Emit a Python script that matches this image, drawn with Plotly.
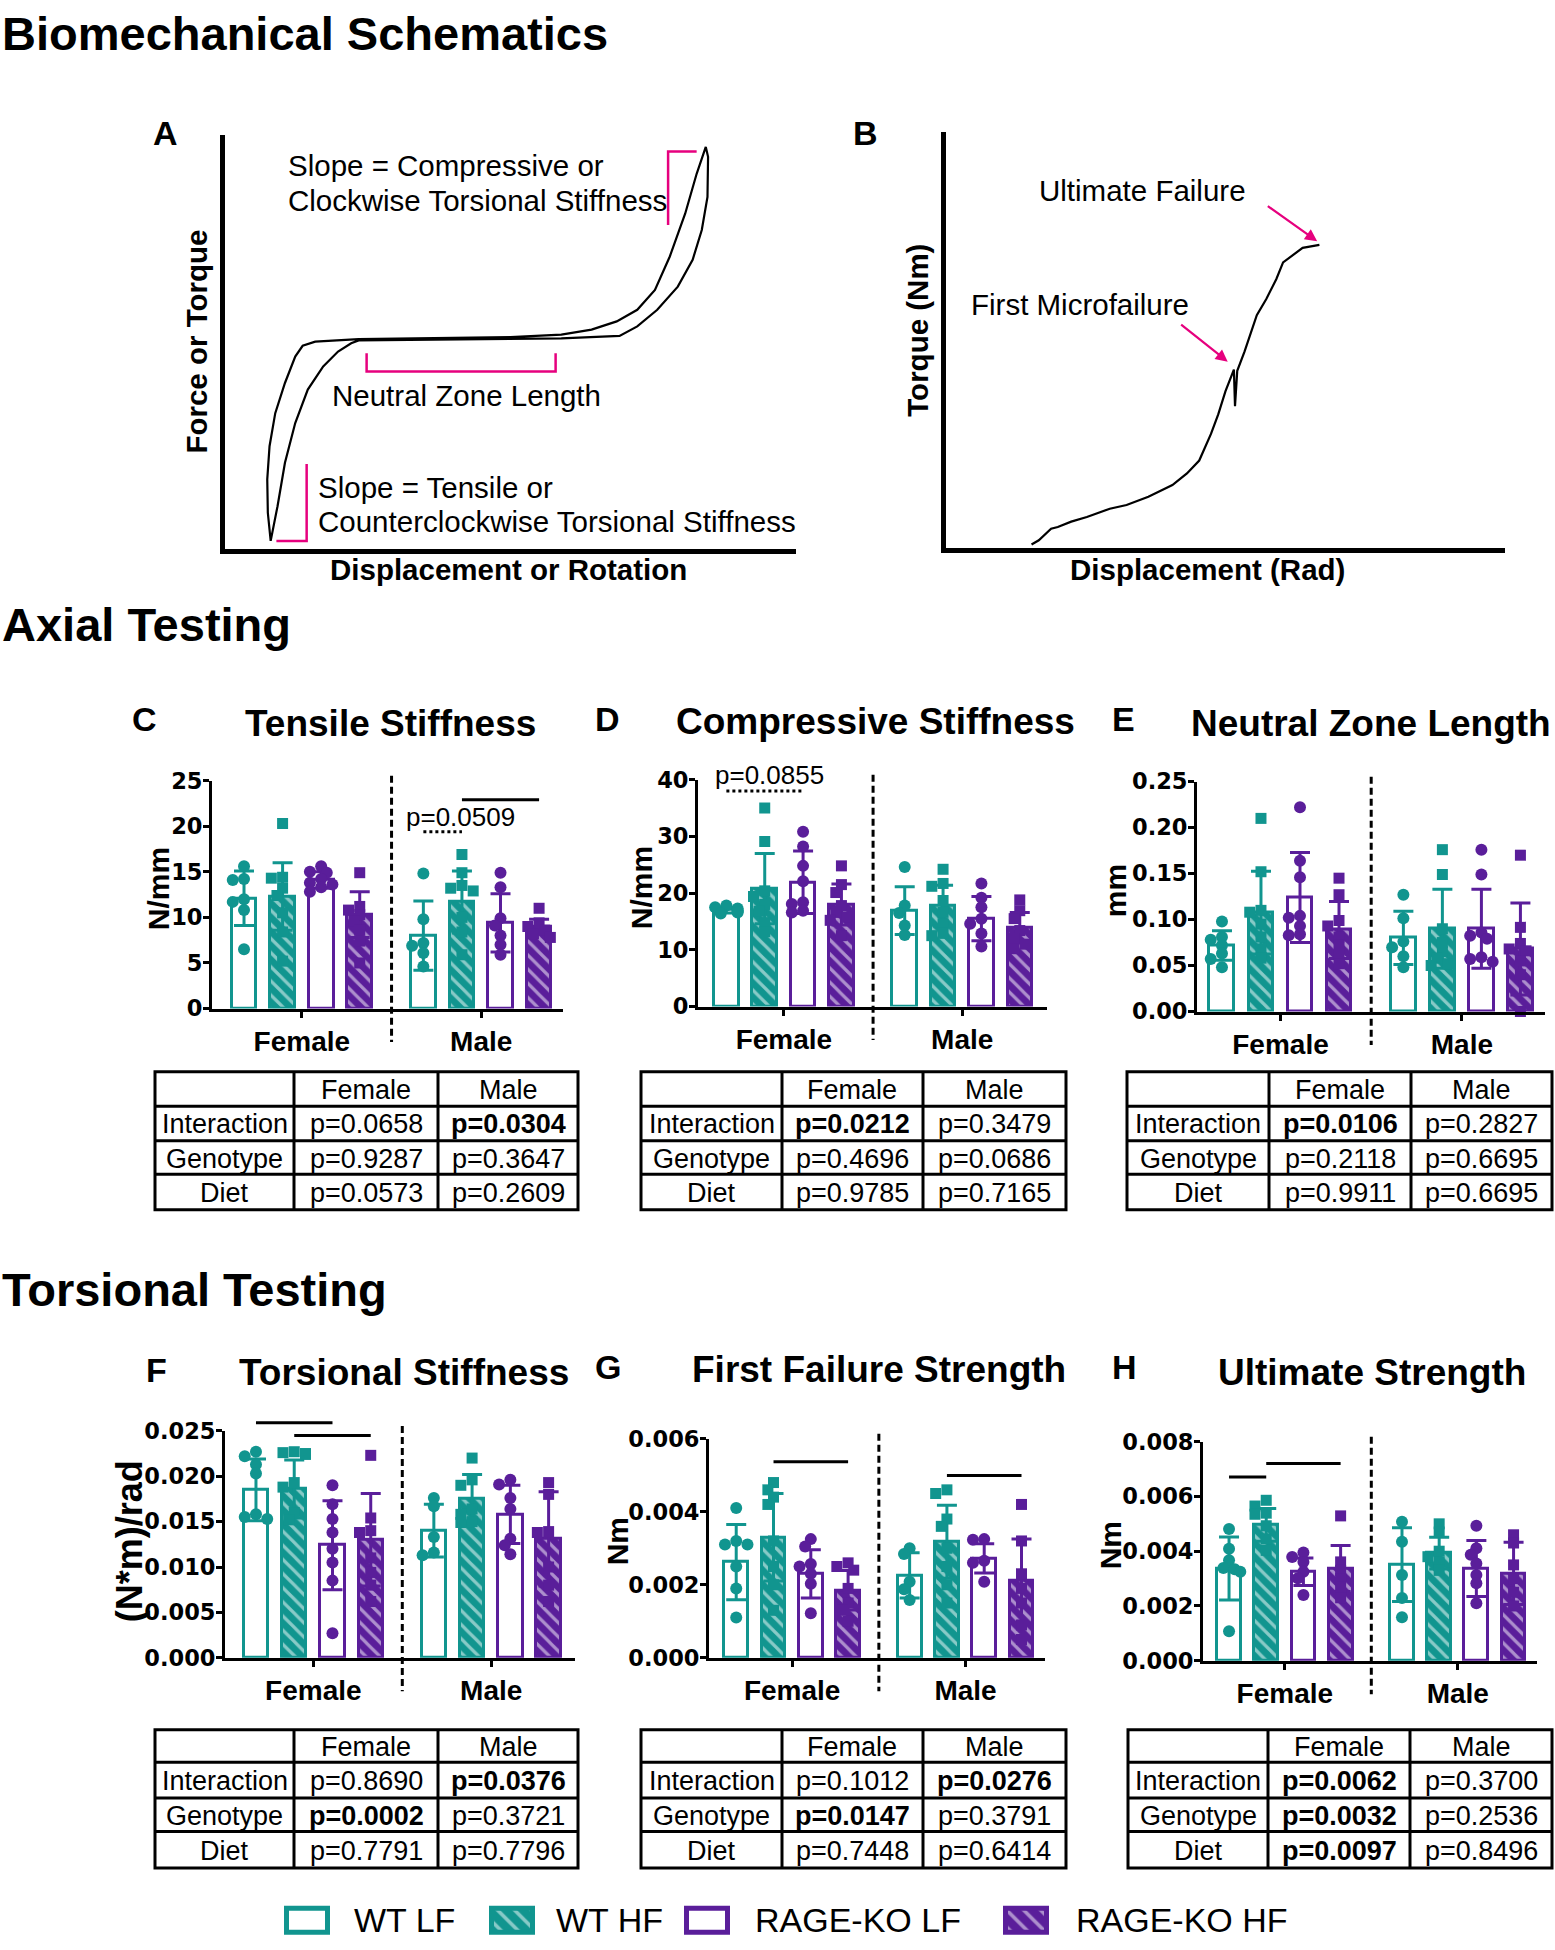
import plotly.graph_objects as go

W, H = 1555, 1950
TEAL = "#11958f"
PURPLE = "#5a1e9a"
PINK = "#e6007e"
FONT = "Liberation Sans, Arial, sans-serif"
TICK_FONT = "DejaVu Sans, Liberation Sans, sans-serif"

GROUPS = ["WT LF", "WT HF", "RAGE-KO LF", "RAGE-KO HF"]
GROUP_COLORS = [TEAL, TEAL, PURPLE, PURPLE]
GROUP_HATCHED = [False, True, False, True]
GROUP_SYMBOL = ["circle", "square", "circle", "square"]
SEXES = ["Female", "Male"]
# bar order: Female WT LF, WT HF, KO LF, KO HF, then Male in same order
BAR_POS = [0, 1, 2, 3, 4.65, 5.65, 6.65, 7.65]
SEX_TICKS = [1.5, 6.15]
SEPARATOR_X = 3.825

TABLE_ROWS = ["Interaction", "Genotype", "Diet"]

# ---------------------------------------------------------------------------
# Schematic curves (normalised 0-100 axis units)
# ---------------------------------------------------------------------------
A_CURVE_X = [8.0, 7.5, 7.4, 7.8, 8.8, 10.5, 12.3, 13.6, 15.8, 23.4, 50.0, 58.9, 64.2,
             68.6, 72.2, 75.3, 77.9, 80.6, 82.6, 84.2, 84.6, 84.5, 83.5, 81.9, 79.3,
             75.7, 72.2, 69.1, 58.9, 23.4, 22.1, 19.8, 17.2, 14.5, 12.3, 10.5, 9.2, 8.0]
A_CURVE_Y = [1.9, 8.7, 16.8, 24.8, 32.8, 40.1, 46.5, 49.1, 50.1, 50.7, 51.2, 51.8, 53.0,
             55.0, 57.8, 62.6, 70.7, 81.1, 90.7, 97.2, 94.8, 85.1, 77.1, 69.9, 63.4,
             57.8, 53.8, 51.5, 50.9, 50.4, 49.7, 47.7, 44.1, 38.5, 30.4, 20.8, 10.3, 1.9]
A_BRACKETS = [
    ([77.6, 77.6, 82.6], [78.3, 96.1, 96.1]),
    ([24.8, 24.8, 57.9, 57.9], [47.3, 42.9, 42.9, 47.3]),
    ([14.3, 14.3, 9.0], [20.5, 1.9, 1.9]),
]
B_CURVE_X = [15.3, 16.6, 18.8, 20.0, 22.4, 25.2, 29.3, 32.3, 36.2, 40.5, 43.1, 45.3, 47.4,
             48.7, 50.0, 51.5, 51.7, 52.1, 53.4, 55.6, 57.3, 59.1, 60.3, 62.9, 63.8, 66.8]
B_CURVE_Y = [0.8, 1.8, 4.6, 5.0, 6.3, 7.4, 9.4, 10.3, 12.3, 15.1, 17.9, 21.0, 27.4,
             32.1, 37.7, 42.9, 34.1, 42.6, 47.2, 56.0, 59.9, 64.7, 68.7, 71.4, 72.2, 72.9]
B_ARROWS = [((57.3, 82.5), (66.4, 73.8)), ((41.8, 54.0), (50.4, 44.8))]

# ---------------------------------------------------------------------------
# C. Tensile stiffness (N/mm)
# ---------------------------------------------------------------------------
C_MEAN = [12.1, 12.3, 14.1, 10.3, 8.0, 11.7, 9.4, 9.0]
C_SD = [3.0, 3.7, 0.9, 2.5, 3.8, 3.4, 3.2, 0.8]
C_PTS = [
    [15.6, 14.2, 14.1, 12.0, 11.7, 10.8, 6.5],
    [20.3, 14.4, 14.3, 13.2, 12.4, 10.5, 8.4, 5.2],
    [15.6, 15.0, 14.9, 14.2, 13.8, 13.6, 13.3, 12.8],
    [14.9, 11.2, 10.8, 10.3, 9.6, 8.6, 7.4, 5.0],
    [14.8, 9.8, 7.2, 6.9, 6.1, 4.6],
    [16.9, 14.9, 13.5, 13.2, 12.9, 10.0, 8.4, 5.9],
    [14.9, 13.3, 9.9, 9.1, 8.0, 7.0, 5.9],
    [11.0, 9.4, 9.0, 8.6, 8.2, 7.8],
]
C_TICKS = [0, 5, 10, 15, 20, 25]
C_SIG = [(4, 5, 19.4, "dot"), (5, 7, 22.9, "solid")]
C_PTEXT = [("p=0.0509", 5.61, 21.0)]
C_PVALS = [["0.0658", "0.0304"], ["0.9287", "0.3647"], ["0.0573", "0.2609"]]

# ---------------------------------------------------------------------------
# D. Compressive stiffness (N/mm)
# ---------------------------------------------------------------------------
D_MEAN = [17.0, 20.8, 21.9, 18.0, 16.9, 17.8, 15.5, 13.9]
D_SD = [0.5, 6.2, 5.5, 3.6, 4.2, 3.6, 3.9, 2.7]
D_PTS = [
    [17.8, 17.5, 17.3, 17.0, 16.8, 16.6, 16.4],
    [35.0, 29.1, 20.4, 19.4, 18.0, 16.8, 14.8, 13.2],
    [30.8, 28.2, 24.8, 22.1, 18.4, 18.1, 16.9, 16.6],
    [24.8, 21.5, 20.1, 17.8, 16.6, 15.8, 15.2, 12.5],
    [24.6, 17.8, 16.5, 14.3, 12.6],
    [24.2, 21.7, 21.2, 18.7, 16.6, 14.6, 12.9, 12.5],
    [21.7, 19.2, 17.5, 15.5, 14.6, 12.9, 10.6],
    [18.8, 16.9, 15.5, 13.4, 12.0, 11.0, 10.2],
]
D_TICKS = [0, 10, 20, 30, 40]
D_SIG = [(0, 2, 38.0, "dot")]
D_PTEXT = [("p=0.0855", 1.13, 40.8)]
D_PVALS = [["0.0212", "0.3479"], ["0.4696", "0.0686"], ["0.9785", "0.7165"]]

# ---------------------------------------------------------------------------
# E. Neutral zone length (mm)
# ---------------------------------------------------------------------------
E_MEAN = [0.0717, 0.1076, 0.124, 0.0886, 0.080, 0.090, 0.090, 0.068]
E_SD = [0.016, 0.045, 0.049, 0.031, 0.029, 0.043, 0.043, 0.050]
E_PTS = [
    [0.098, 0.081, 0.078, 0.072, 0.063, 0.057, 0.048],
    [0.210, 0.152, 0.110, 0.108, 0.095, 0.081, 0.068, 0.058],
    [0.222, 0.164, 0.146, 0.104, 0.102, 0.093, 0.084, 0.083],
    [0.145, 0.127, 0.099, 0.093, 0.081, 0.072, 0.062, 0.052],
    [0.127, 0.1015, 0.076, 0.070, 0.060, 0.048],
    [0.176, 0.149, 0.090, 0.075, 0.065, 0.058, 0.052, 0.050],
    [0.176, 0.149, 0.086, 0.0825, 0.079, 0.059, 0.057, 0.054],
    [0.170, 0.0915, 0.074, 0.068, 0.066, 0.055, 0.040, 0.0],
]
E_TICKS = [0, 0.05, 0.10, 0.15, 0.20, 0.25]
E_PVALS = [["0.0106", "0.2827"], ["0.2118", "0.6695"], ["0.9911", "0.6695"]]

# ---------------------------------------------------------------------------
# F. Torsional stiffness ((N*m)/rad)
# ---------------------------------------------------------------------------
F_MEAN = [0.0185, 0.0186, 0.0124, 0.0130, 0.0140, 0.0175, 0.0158, 0.0131]
F_SD = [0.0034, 0.0032, 0.0049, 0.0051, 0.0029, 0.0027, 0.0032, 0.0052]
F_PTS = [
    [0.0227, 0.0222, 0.0213, 0.0203, 0.0158, 0.0155, 0.0153],
    [0.0227, 0.0226, 0.0225, 0.0224, 0.0193, 0.0188, 0.0160, 0.0152],
    [0.0190, 0.0169, 0.0153, 0.0138, 0.0120, 0.0105, 0.0085, 0.0027],
    [0.0223, 0.0154, 0.0140, 0.0138, 0.0110, 0.0094, 0.0080, 0.0062],
    [0.0176, 0.0167, 0.0133, 0.0116, 0.0113],
    [0.0220, 0.0196, 0.0190, 0.0164, 0.0158, 0.0150, 0.0149],
    [0.0196, 0.0191, 0.0176, 0.0164, 0.0131, 0.0124, 0.0114],
    [0.0193, 0.0180, 0.0139, 0.0138, 0.0100, 0.0080, 0.0062],
]
F_TICKS = [0, 0.005, 0.010, 0.015, 0.020, 0.025]
F_SIG = [(0, 2, 0.0259, "solid"), (1, 3, 0.0245, "solid")]
F_PVALS = [["0.8690", "0.0376"], ["0.0002", "0.3721"], ["0.7791", "0.7796"]]

# ---------------------------------------------------------------------------
# G. First failure strength (Nm)
# ---------------------------------------------------------------------------
G_MEAN = [0.00262, 0.0033, 0.0023, 0.00185, 0.00226, 0.00318, 0.00272, 0.0021]
G_SD = [0.00103, 0.0012, 0.00066, 0.00054, 0.00062, 0.0010, 0.0004, 0.00115]
G_PTS = [
    [0.0041, 0.0032, 0.0031, 0.0031, 0.0025, 0.0019, 0.0011],
    [0.0048, 0.0046, 0.0044, 0.0042, 0.0032, 0.0025, 0.0020, 0.0013],
    [0.00325, 0.00305, 0.00257, 0.0025, 0.0023, 0.00203, 0.00122],
    [0.0026, 0.0025, 0.0024, 0.0019, 0.0015, 0.0013, 0.0010],
    [0.0030, 0.00284, 0.00208, 0.00188, 0.00158],
    [0.0046, 0.0045, 0.0038, 0.0036, 0.0030, 0.0025, 0.0020, 0.0015],
    [0.00325, 0.00323, 0.00266, 0.0026, 0.00208],
    [0.0042, 0.0032, 0.0023, 0.0019, 0.0015, 0.0009, 0.0005],
]
G_TICKS = [0, 0.002, 0.004, 0.006]
G_SIG = [(1, 3, 0.00537, "solid"), (5, 7, 0.00499, "solid")]
G_PVALS = [["0.1012", "0.0276"], ["0.0147", "0.3791"], ["0.7448", "0.6414"]]

# ---------------------------------------------------------------------------
# H. Ultimate strength (Nm)
# ---------------------------------------------------------------------------
H_MEAN = [0.00337, 0.00496, 0.00325, 0.00337, 0.00351, 0.00393, 0.00337, 0.00319]
H_SD = [0.00115, 0.0006, 0.0005, 0.00084, 0.00135, 0.00058, 0.00102, 0.00114]
H_PTS = [
    [0.00481, 0.00409, 0.00367, 0.00339, 0.00334, 0.00325, 0.00108],
    [0.00586, 0.00565, 0.00539, 0.00535, 0.00493, 0.00445, 0.00403],
    [0.00395, 0.00379, 0.00361, 0.00325, 0.00301, 0.0024],
    [0.00529, 0.00361, 0.0033, 0.0030, 0.0027, 0.0023],
    [0.00508, 0.00435, 0.00313, 0.00229, 0.00159],
    [0.0050, 0.0047, 0.0040, 0.0038, 0.0036, 0.0033],
    [0.00493, 0.00411, 0.00387, 0.00355, 0.00313, 0.00283, 0.0021],
    [0.0046, 0.0043, 0.0035, 0.0030, 0.0025, 0.0020],
]
H_TICKS = [0, 0.002, 0.004, 0.006, 0.008]
H_SIG = [(0, 1, 0.00671, "solid"), (1, 3, 0.0072, "solid")]
H_PVALS = [["0.0062", "0.3700"], ["0.0032", "0.2536"], ["0.0097", "0.8496"]]

# ---------------------------------------------------------------------------
# Panel geometry (page pixels)
# ---------------------------------------------------------------------------
PANELS = [
    dict(letter="C", title="Tensile Stiffness", ytitle="N/mm", ysize=30, mean=C_MEAN, sd=C_SD, pts=C_PTS,
         ticks=C_TICKS, fmt="d", box=(212, 563, 778, 1009), xr=(-0.83, 8.27),
         letter_xy=(144, 716), title_xy=(390, 720), ytitle_xy=(158, 888),
         sig=C_SIG, ptext=C_PTEXT, pvals=C_PVALS,
         tcols=(155, 294, 438, 578), trows=(1073, 1108, 1143, 1177, 1213)),
    dict(letter="D", title="Compressive Stiffness", ytitle="N/mm", ysize=30, mean=D_MEAN, sd=D_SD, pts=D_PTS,
         ticks=D_TICKS, fmt="d", box=(698, 1047, 777, 1007), xr=(-0.74, 8.36),
         letter_xy=(607, 716), title_xy=(875, 718), ytitle_xy=(641, 887),
         sig=D_SIG, ptext=D_PTEXT, pvals=D_PVALS,
         tcols=(641, 782, 923, 1066), trows=(1073, 1108, 1143, 1177, 1213)),
    dict(letter="E", title="Neutral Zone Length", ytitle="mm", ysize=30, mean=E_MEAN, sd=E_SD, pts=E_PTS,
         ticks=E_TICKS, fmt=".2f", box=(1197, 1545, 779, 1012), xr=(-0.64, 8.28),
         letter_xy=(1123, 716), title_xy=(1371, 720), ytitle_xy=(1115, 890),
         sig=[], ptext=[], pvals=E_PVALS,
         tcols=(1127, 1269, 1411, 1552), trows=(1073, 1108, 1143, 1177, 1213)),
    dict(letter="F", title="Torsional Stiffness", ytitle="(N*m)/rad", ysize=36, mean=F_MEAN, sd=F_SD, pts=F_PTS,
         ticks=F_TICKS, fmt=".3f", box=(225, 575, 1437, 1667), xr=(-0.81, 8.34),
         letter_xy=(156, 1375), title_xy=(404, 1378), ytitle_xy=(129, 1549),
         sig=F_SIG, ptext=[], pvals=F_PVALS,
         tcols=(155, 294, 438, 578), trows=(1740, 1773, 1809, 1843, 1880)),
    dict(letter="G", title="First Failure Strength", ytitle="Nm", ysize=30, mean=G_MEAN, sd=G_SD, pts=G_PTS,
         ticks=G_TICKS, fmt=".3f", box=(709, 1045, 1445, 1667), xr=(-0.73, 8.28),
         letter_xy=(608, 1372), title_xy=(879, 1375), ytitle_xy=(617, 1549),
         sig=G_SIG, ptext=[], pvals=G_PVALS,
         tcols=(641, 782, 923, 1066), trows=(1740, 1773, 1809, 1843, 1880)),
    dict(letter="H", title="Ultimate Strength", ytitle="Nm", ysize=30, mean=H_MEAN, sd=H_SD, pts=H_PTS,
         ticks=H_TICKS, fmt=".3f", box=(1203, 1537, 1448, 1670), xr=(-0.70, 8.28),
         letter_xy=(1124, 1372), title_xy=(1372, 1378), ytitle_xy=(1110, 1553),
         sig=H_SIG, ptext=[], pvals=H_PVALS,
         tcols=(1128, 1268, 1410, 1552), trows=(1740, 1773, 1809, 1843, 1880)),
]

LEGEND_SWATCH_X = [307, 512, 707, 1026]
LEGEND_TEXT_X = [352, 554, 753, 1074]


def px(x):
    return x / W


def py(y):
    return 1 - y / H


def to_page(p, x, y):
    l, r, t, b = p["box"]
    x0, x1 = p["xr"]
    return l + (x - x0) / (x1 - x0) * (r - l), b - y / p["ticks"][-1] * (b - t)


def swarm(vals, ppx, ppy, d=12.5):
    """Simple beeswarm: nudge overlapping points sideways (GraphPad-like)."""
    cands = [0, -0.45, 0.45, -0.9, 0.9]
    placed, out = [], []
    for v in vals:
        yy = v * ppy
        for c in cands:
            xx = c * d
            if all((xx - a) ** 2 + (yy - b) ** 2 >= (0.65 * d) ** 2 for a, b in placed):
                break
        placed.append((xx, yy))
        out.append(xx / ppx)
    return out


def ann(text, x, y, size, bold=False, xanchor="center", angle=0, family=FONT):
    return dict(text=f"<b>{text}</b>" if bold else text, x=px(x), y=py(y), xref="paper", yref="paper",
                showarrow=False, xanchor=xanchor, yanchor="middle", textangle=angle,
                font=dict(size=size, family=family, color="black"))


def line(x0, y0, x1, y1, width=3, dash="solid", color="black"):
    return dict(type="line", xref="paper", yref="paper", x0=px(x0), y0=py(y0), x1=px(x1), y1=py(y1),
                line=dict(color=color, width=width, dash=dash))


fig = go.Figure()
layout = {}
annotations = []
shapes = []

# ---------------------------------------------------------------------------
# Bar panels C-H
# ---------------------------------------------------------------------------
for k, p in enumerate(PANELS, start=1):
    xa, ya = ("x", "y") if k == 1 else (f"x{k}", f"y{k}")
    l, r, t, b = p["box"]
    x0, x1 = p["xr"]
    ymax = p["ticks"][-1]
    ppx = (r - l) / (x1 - x0)
    ppy = (b - t) / ymax

    for g in range(4):
        c = GROUP_COLORS[g]
        marker = dict(color=c if GROUP_HATCHED[g] else "white", line=dict(color=c, width=3))
        if GROUP_HATCHED[g]:
            marker["pattern"] = dict(shape="\\", fgcolor="white", size=10, solidity=0.32, fillmode="overlay")
        fig.add_trace(go.Bar(
            x=[BAR_POS[g], BAR_POS[g + 4]], y=[p["mean"][g], p["mean"][g + 4]],
            width=0.64, marker=marker, name=GROUPS[g], showlegend=False,
            error_y=dict(type="data", array=[p["sd"][g], p["sd"][g + 4]], color=c, thickness=3, width=10),
            xaxis=xa, yaxis=ya,
        ))
    for i in range(8):
        g = i % 4
        offs = swarm(p["pts"][i], ppx, ppy)
        fig.add_trace(go.Scatter(
            x=[BAR_POS[i] + o for o in offs], y=p["pts"][i], mode="markers", cliponaxis=False,
            marker=dict(color=GROUP_COLORS[g], symbol=GROUP_SYMBOL[g], size=12 if g % 2 == 0 else 11),
            showlegend=False, xaxis=xa, yaxis=ya,
        ))

    axis_common = dict(showline=True, linewidth=3, linecolor="black", ticks="outside", ticklen=6,
                       tickwidth=3, tickcolor="black", showgrid=False, zeroline=False)
    layout["xaxis" if k == 1 else f"xaxis{k}"] = dict(
        domain=[px(l), px(r)], range=list(p["xr"]), anchor=ya, tickvals=SEX_TICKS,
        ticktext=[f"<b>{s}</b>" for s in SEXES], tickfont=dict(size=28, family=FONT, color="black"),
        **axis_common)
    layout["yaxis" if k == 1 else f"yaxis{k}"] = dict(
        domain=[py(b), py(t)], range=[0, ymax], anchor=xa, tickvals=p["ticks"], tickformat=p["fmt"],
        ticklabelstandoff=-4,
        tickfont=dict(size=22.5, family=TICK_FONT, color="black", weight="bold"), **axis_common)

    # separator between Female and Male
    sx, _ = to_page(p, SEPARATOR_X, 0)
    shapes.append(line(sx, t - 5, sx, b + 34, width=3, dash="7px,4px"))

    # significance bars
    for i0, i1, yv, style in p["sig"]:
        xa0, yy = to_page(p, BAR_POS[i0], yv)
        xa1, _ = to_page(p, BAR_POS[i1], yv)
        shapes.append(line(xa0, yy, xa1, yy, width=3, dash=style))
    for txt, xv, yv in p["ptext"]:
        tx, ty = to_page(p, xv, yv)
        annotations.append(ann(txt, tx, ty, 26))

    annotations.append(ann(p["letter"], *p["letter_xy"], 34, bold=True))
    annotations.append(ann(p["title"], *p["title_xy"], 37, bold=True))
    annotations.append(ann(p["ytitle"], *p["ytitle_xy"], p["ysize"], bold=True, angle=-90))

    # statistics table
    cx, ry = p["tcols"], p["trows"]
    shapes.append(dict(type="rect", xref="paper", yref="paper", x0=px(cx[0]), x1=px(cx[3]),
                       y0=py(ry[4]), y1=py(ry[0]), line=dict(color="black", width=3)))
    for xx in cx[1:3]:
        shapes.append(line(xx, ry[0], xx, ry[4]))
    for yy in ry[1:4]:
        shapes.append(line(cx[0], yy, cx[3], yy))
    for j, s in enumerate(SEXES):
        annotations.append(ann(s, (cx[j + 1] + cx[j + 2]) / 2, (ry[0] + ry[1]) / 2 + 1, 27))
    for rr, label in enumerate(TABLE_ROWS):
        yc = (ry[rr + 1] + ry[rr + 2]) / 2 + 1
        annotations.append(ann(label, (cx[0] + cx[1]) / 2, yc, 27))
        for j in range(2):
            val = p["pvals"][rr][j]
            annotations.append(ann(f"p={val}", (cx[j + 1] + cx[j + 2]) / 2, yc, 27, bold=float(val) < 0.05))

# ---------------------------------------------------------------------------
# Schematics A and B
# ---------------------------------------------------------------------------
fig.add_trace(go.Scatter(x=A_CURVE_X, y=A_CURVE_Y, mode="lines", line=dict(color="black", width=2.2),
                         showlegend=False, xaxis="x7", yaxis="y7"))
for bx, by in A_BRACKETS:
    fig.add_trace(go.Scatter(x=bx, y=by, mode="lines", line=dict(color=PINK, width=2.5),
                             showlegend=False, xaxis="x7", yaxis="y7"))
fig.add_trace(go.Scatter(x=B_CURVE_X, y=B_CURVE_Y, mode="lines", line=dict(color="black", width=2.2),
                         showlegend=False, xaxis="x8", yaxis="y8"))

schem = dict(range=[0, 100], showline=True, linewidth=5, linecolor="black", showticklabels=False,
             ticks="", showgrid=False, zeroline=False)
layout["xaxis7"] = dict(domain=[px(225), px(796)], anchor="y7", **schem)
layout["yaxis7"] = dict(domain=[py(543), py(124)], anchor="x7", **schem)
layout["xaxis8"] = dict(domain=[px(946), px(1505)], anchor="y8", **schem)
layout["yaxis8"] = dict(domain=[py(542), py(121)], anchor="x8", **schem)

for (tx, ty), (hx, hy) in B_ARROWS:
    annotations.append(dict(x=hx, y=hy, ax=tx, ay=ty, xref="x8", yref="y8", axref="x8", ayref="y8",
                            text="", showarrow=True, arrowhead=2, arrowsize=1.1, arrowwidth=2.2,
                            arrowcolor=PINK))

annotations += [
    ann("Biomechanical Schematics", 0, 21, 47, bold=True, xanchor="left"),
    ann("Axial Testing", 0, 620, 47, bold=True, xanchor="left"),
    ann("Torsional Testing", 0, 1294, 47, bold=True, xanchor="left"),
    ann("A", 165, 122, 34, bold=True),
    ann("B", 865, 122, 34, bold=True),
    ann("Force or Torque", 197, 333, 29.5, bold=True, angle=-90),
    ann("Displacement or Rotation", 508, 564, 29.5, bold=True),
    ann("Torque (Nm)", 918, 321, 29.5, bold=True, angle=-90),
    ann("Displacement (Rad)", 1207, 564, 29.5, bold=True),
    ann("Slope = Compressive or", 286, 155, 29.5, xanchor="left"),
    ann("Clockwise Torsional Stiffness", 286, 190, 29.5, xanchor="left"),
    ann("Neutral Zone Length", 330, 388, 29.5, xanchor="left"),
    ann("Slope = Tensile or", 316, 481, 29.5, xanchor="left"),
    ann("Counterclockwise Torsional Stiffness", 316, 515, 29.5, xanchor="left"),
    ann("Ultimate Failure", 1142, 180, 29.5),
    ann("First Microfailure", 1080, 295, 29.5),
]

# ---------------------------------------------------------------------------
# Legend (swatches drawn as bars on a hidden axis)
# ---------------------------------------------------------------------------
fig.add_trace(go.Bar(
    x=LEGEND_SWATCH_X, y=[25] * 4, base=4, width=41,
    marker=dict(color=[c if h else "white" for c, h in zip(GROUP_COLORS, GROUP_HATCHED)],
                line=dict(color=GROUP_COLORS, width=5),
                pattern=dict(shape=["\\" if h else "" for h in GROUP_HATCHED], fgcolor="white",
                             size=12, solidity=0.3, fillmode="overlay")),
    showlegend=False, xaxis="x9", yaxis="y9",
))
layout["xaxis9"] = dict(domain=[0, 1], range=[0, W], visible=False, anchor="y9")
layout["yaxis9"] = dict(domain=[0, 50 / H], range=[0, 50], visible=False, anchor="x9")
for g, lx in enumerate(LEGEND_TEXT_X):
    annotations.append(ann(GROUPS[g], lx, 1933, 34, xanchor="left"))

fig.update_layout(
    width=W, height=H, margin=dict(l=0, r=0, t=0, b=0),
    paper_bgcolor="white", plot_bgcolor="white", showlegend=False,
    bargap=0, annotations=annotations, shapes=shapes,
    font=dict(family=FONT, color="black"),
    **layout,
)

# pin the figure to the page's top-left corner so the page is exactly the figure size
PAGE_FIX = (
    "document.body.style.margin = '0';"
    "var gd = document.getElementsByClassName('plotly-graph-div')[0];"
    "gd.style.position = 'absolute'; gd.style.top = '0px'; gd.style.left = '0px';"
)
fig.write_html("out.html", config={"displayModeBar": False}, post_script=PAGE_FIX)
